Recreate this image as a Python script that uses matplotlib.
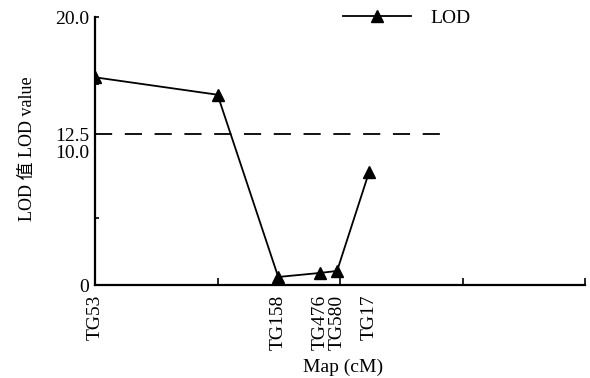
import matplotlib
matplotlib.use("Agg")
import matplotlib.pyplot as plt

plt.rcParams["font.family"] = ["Liberation Serif", "Noto Sans CJK SC"]

# 标记位置 (cM) 与 LOD 值
pos_cm = [0, 20, 29.9, 36.7, 39.5, 44.7]
lod = [15.5, 14.2, 0.6, 0.9, 1.05, 8.4]
marker_pos = [0, 29.9, 36.7, 39.5, 44.7]
marker_names = ["TG53", "TG158", "TG476", "TG580", "TG17"]

threshold_y = 11.25      # 画面上阈值线所在位置
threshold_label = "12.5"
threshold_end = 57
ytick_vals = [0, 10, threshold_y, 20]
ytick_labels = ["0", "10.0", threshold_label, "20.0"]
yminor_vals = [5, 15, 20]
xtick_vals = [0, 20, 40, 60, 80]

fig = plt.figure(figsize=(5.9, 3.78), dpi=100)
ax = fig.add_axes([0.161, 0.246, 0.831, 0.709])

ax.plot(pos_cm, lod, "k-", marker="^", markersize=8, linewidth=1.3, label="LOD")
ax.plot([0, threshold_end], [threshold_y, threshold_y], color="k", linewidth=1.3,
        dashes=(9.5, 7))

ax.set_xlim(0, 80)
ax.set_ylim(0, 20)

ax.spines["top"].set_visible(False)
ax.spines["right"].set_visible(False)
ax.spines["left"].set_linewidth(1.6)
ax.spines["bottom"].set_linewidth(1.6)

ax.yaxis.remove_overlapping_locs = False
ax.set_yticks(ytick_vals)
ax.set_yticklabels(ytick_labels, fontsize=14)
ax.tick_params(axis="y", length=0, pad=4)
ax.set_yticks(yminor_vals, minor=True)
ax.tick_params(axis="y", which="minor", direction="in", length=3, width=1.2)

ax.set_xticks(xtick_vals)
ax.set_xticklabels([""] * len(xtick_vals))
ax.tick_params(axis="x", direction="in", length=5, width=1.2)

for p, name in zip(marker_pos, marker_names):
    ax.annotate(name, xy=(p, 0), xytext=(0, -7), textcoords="offset points",
                rotation=90, ha="center", va="top", fontsize=14)

ax.set_ylabel("LOD 值 LOD value", fontsize=13)
ax.yaxis.set_label_coords(-0.12, 0.51)
ax.text(0.506, -0.306, "Map (cM)", transform=ax.transAxes, ha="center",
        va="center", fontsize=14)

ax.legend(loc="upper left", bbox_to_anchor=(0.47, 1.093), frameon=False,
          fontsize=14, handlelength=3.5, handletextpad=1.0)

plt.savefig("out.png", dpi=100)
